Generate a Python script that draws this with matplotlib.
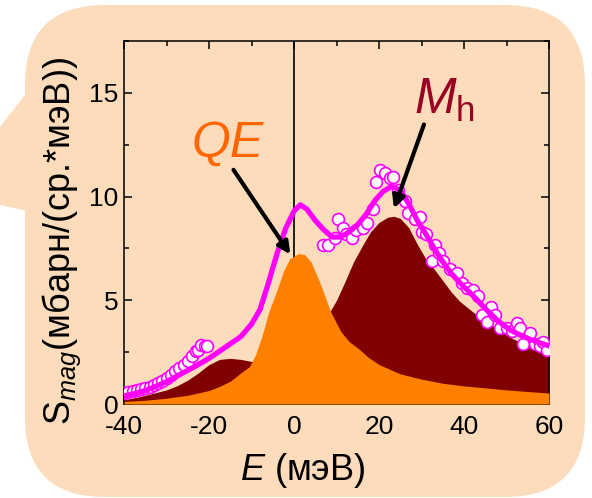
import numpy as np
import matplotlib
matplotlib.use("Agg")
import matplotlib.pyplot as plt
from matplotlib.patches import FancyBboxPatch, Polygon
from matplotlib.transforms import IdentityTransform

plt.rcParams['font.family'] = ['Liberation Sans', 'DejaVu Sans']
plt.rcParams['mathtext.fontset'] = 'custom'
plt.rcParams['mathtext.rm'] = 'Liberation Sans'
plt.rcParams['mathtext.it'] = 'Liberation Sans:italic'
plt.rcParams['axes.unicode_minus'] = False

# total fit (magenta line)
e_fit = [-40, -37.5, -35, -32.5, -30, -27.5, -25, -22.5, -20, -17.5, -15, -12.5, -10, -8, -6, -4, -2, 0, 1.5, 3,
         5, 7, 9, 11, 13, 15, 17, 19, 21, 23, 25, 27, 29, 31, 33, 35, 37, 39, 42, 45, 48, 51, 54, 57, 60]
s_fit = [0.38, 0.5, 0.65, 0.85, 1.08, 1.35, 1.62, 1.9, 2.2, 2.55, 2.9, 3.25, 3.85, 4.55, 5.85, 7.25, 8.45, 9.3, 9.6, 9.4,
         8.85, 8.4, 8.05, 8.05, 8.3, 8.65, 9.15, 9.8, 10.25, 10.5, 10.3, 9.65, 8.85, 8.2, 7.5, 6.85, 6.3, 5.85, 5.25, 4.6,
         4.0, 3.55, 3.25, 3.0, 2.8]

# magnon component M_h (dark red)
e_mh = [-40, -37.5, -35, -32.5, -30, -27.5, -25, -22.5, -20, -17.5, -15, -12.5, -10, -8, -5, -2, 0, 3, 6, 8,
        10, 12, 14, 16, 18, 20, 22, 23.5, 25, 27, 29, 31, 33, 35, 37, 39, 42, 45, 48, 51, 54, 57, 60]
s_mh = [0.2, 0.3, 0.42, 0.55, 0.68, 0.88, 1.15, 1.5, 1.9, 2.15, 2.2, 2.15, 2.05, 2.05, 2.2, 2.5, 2.8, 3.3, 3.9, 4.3,
        5.0, 5.9, 6.85, 7.6, 8.3, 8.75, 9.0, 9.05, 8.95, 8.5, 7.7, 7.0, 6.5, 5.95, 5.4, 4.95, 4.45, 4.0, 3.6, 3.2,
        2.9, 2.65, 2.45]

# quasielastic component QE (orange)
e_qe = [-40, -35, -30, -25, -20, -17.5, -15, -12.5, -10.5, -9, -7.5, -6, -4, -2.5, -1, 1, 2.5, 4, 6, 8.5,
        11, 13, 15, 17.5, 20, 25, 30, 35, 40, 45, 50, 55, 60]
s_qe = [0.12, 0.18, 0.28, 0.42, 0.65, 0.85, 1.1, 1.5, 1.8, 2.4, 3.3, 4.4, 5.5, 6.4, 7.0, 7.25, 7.2, 6.85, 5.9, 4.5,
        3.5, 3.0, 2.7, 2.25, 1.9, 1.45, 1.2, 1.0, 0.87, 0.78, 0.68, 0.6, 0.53]

# measured points
e_pts = [-40, -39, -38, -37, -36, -35, -34, -33, -32, -31, -30, -29, -28, -27, -26, -25, -24, -23, -22.5, -22, -21,
         -20.5,
         6.9, 8.0, 9.6, 10.4, 11.5, 12.3, 13.6, 14.7, 16.2, 17.1, 18.6, 19.3, 20.2, 21.4, 22.6, 23.3, 24.5, 26.1,
         26.8, 28.5, 29.6, 30.1, 31.0, 32.5, 33.2, 34.0, 35.1, 36.7, 38.3, 39.5, 40.7, 42.1, 43.3, 44.2, 45.4,
         46.3, 47.3, 48.5, 50.1, 51.2, 52.5, 53.2, 53.9, 55.5, 56.7, 57.9, 58.7, 59.5]
s_pts = [0.55, 0.58, 0.62, 0.66, 0.7, 0.76, 0.84, 0.92, 1.0, 1.12, 1.25, 1.42, 1.58, 1.75, 1.9, 2.05, 2.3, 2.55, 2.6,
         2.85, 2.82, 2.8,
         7.65, 7.65, 8.0, 8.9, 8.5, 8.2, 8.0, 8.4, 8.5, 8.75, 9.4, 10.7, 11.3, 11.15, 10.9, 10.95, 10.3, 9.8,
         9.2, 8.9, 9.0, 8.3, 8.2, 6.9, 7.65, 7.3, 6.9, 6.5, 6.3, 5.85, 5.6, 5.5, 5.2, 4.3, 3.95,
         4.7, 4.3, 3.65, 3.65, 3.5, 3.9, 3.65, 2.9, 3.4, 2.9, 2.8, 3.0, 2.6]

peach = '#fcdcbb'
fig = plt.figure(figsize=(5.92, 4.98), dpi=100)

# speech-bubble background (pixel coords, origin bottom-left)
bubble = FancyBboxPatch((25, 1), 560, 492, boxstyle="round,pad=0,rounding_size=80",
                        transform=IdentityTransform(), facecolor=peach, edgecolor='none', zorder=-10)
tail = Polygon([(32, 412), (0, 371), (0, 293), (32, 286)], closed=True,
               transform=IdentityTransform(), facecolor=peach, edgecolor='none', zorder=-10)
fig.patches.extend([bubble, tail])

ax = fig.add_axes([124 / 592, 1 - 404 / 498, 425 / 592, 363 / 498])
ax.patch.set_visible(False)

ax.axvline(0, color='k', lw=1.2, zorder=1)
ax.fill_between(e_mh, s_mh, color='#800000', lw=0, zorder=2)
ax.fill_between(e_qe, s_qe, color='#ff8000', lw=0, zorder=3)
ax.plot(e_pts, s_pts, 'o', ms=8.5, mfc='white', mec='#ff00ff', mew=1.2, zorder=4)
ax.plot(e_fit, s_fit, color='#ff00ff', lw=3.8, zorder=5)

ax.annotate('', xy=(-0.5, 7.1), xytext=(-14.6, 11.4),
            arrowprops=dict(arrowstyle='-|>', color='k', lw=3, mutation_scale=18), zorder=6)
ax.annotate('', xy=(23.3, 9.3), xytext=(30.8, 13.6),
            arrowprops=dict(arrowstyle='-|>', color='k', lw=3, mutation_scale=18), zorder=6)
ax.text(-15.5, 11.9, 'QE', color='#ff6600', fontsize=36, style='italic', ha='center', va='baseline')
ax.text(35.5, 14.0, r'$M_{\mathregular{h}}$', color='#990022', fontsize=36, ha='center', va='baseline')

ax.set_xlim(-40, 60)
ax.set_ylim(0, 17.5)
ax.set_xticks([-40, -20, 0, 20, 40, 60])
ax.set_xticks([-30, -10, 10, 30, 50], minor=True)
ax.set_yticks([0, 5, 10, 15])
ax.set_yticks([2.5, 7.5, 12.5, 17.5], minor=True)
ax.tick_params(which='both', direction='in', top=True, right=True, width=1.1, labelsize=19)
ax.tick_params(axis='x', pad=8)
ax.tick_params(axis='y', pad=4)
ax.tick_params(which='major', length=6)
ax.tick_params(which='minor', length=3.5)
for sp in ax.spines.values():
    sp.set_linewidth(1.1)

ax.set_xlabel(r'$\mathit{E}$ (мэВ)', fontsize=26)
ax.xaxis.set_label_coords((303 - 124) / 425, (404 - 470) / 363)
ax.xaxis.label.set_va('center')
ax.set_ylabel(r'$\mathregular{S}_{\mathit{mag}}$(мбарн/(ср.*мэВ))', fontsize=26)
ax.yaxis.set_label_coords((62 - 124) / 425, (404 - 241) / 363)
ax.yaxis.label.set_va('center')

fig.savefig('out.png', dpi=100, facecolor='white')
